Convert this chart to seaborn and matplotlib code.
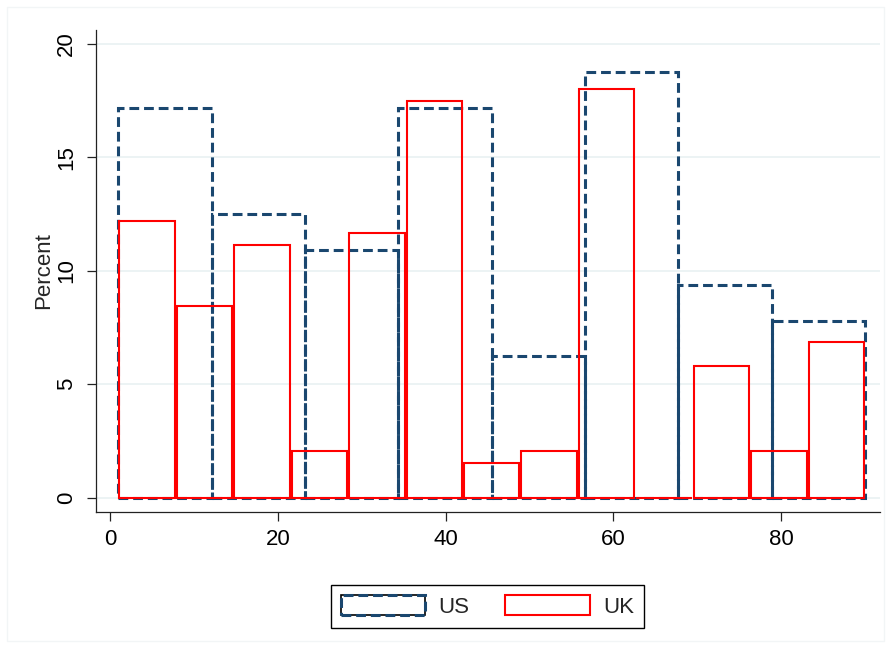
import numpy as np
import pandas as pd
import matplotlib
matplotlib.use("Agg")
import matplotlib.pyplot as plt
import seaborn as sns
from matplotlib.patches import Patch, Rectangle
from matplotlib.legend_handler import HandlerTuple

# Percent per bin
us_pct = [17.19, 12.50, 10.94, 17.19, 6.25, 18.75, 9.38, 7.81]
uk_pct = [12.18, 8.46, 11.12, 2.08, 11.65, 17.51, 1.53, 2.08, 18.04, 0.0, 5.81, 2.08, 6.85]
bin_lo, bin_hi = 1, 90
x_ticks = [0, 20, 40, 60, 80]
y_ticks = [0, 5, 10, 15, 20]

NAVY = "#1a476f"
RED = "#ff0000"
DASH = (0, (3.2, 1.6))

sns.set_theme(style="white")
plt.rcParams['font.family'] = ['Liberation Sans', 'DejaVu Sans']

fig = plt.figure(figsize=(8.91, 6.48), dpi=100)
ax = fig.add_axes([0.1074, 0.2099, 0.8803, 0.7438])


def bin_table(values):
    edges = np.linspace(bin_lo, bin_hi, len(values) + 1)
    centers = (edges[:-1] + edges[1:]) / 2
    return pd.DataFrame({"x": centers, "pct": values}), list(edges)


us_df, us_edges = bin_table(us_pct)
uk_df, uk_edges = bin_table(uk_pct)

# US: dashed navy outlines
sns.histplot(data=us_df, x="x", weights="pct", bins=us_edges, stat="count",
             fill=False, element="bars", color=NAVY, edgecolor=NAVY,
             linewidth=2.2, linestyle=DASH, ax=ax)
# UK: solid red outlines with a small gap
sns.histplot(data=uk_df, x="x", weights="pct", bins=uk_edges, stat="count",
             fill=False, element="bars", color=RED, edgecolor=RED,
             linewidth=1.5, shrink=0.965, ax=ax)

ax.set_xlim(-1.7, 91.77)
ax.set_ylim(-0.63, 20.62)
ax.set_xticks(x_ticks)
ax.set_yticks(y_ticks)
ax.yaxis.grid(True, color="#eaf2f3", linewidth=1.3)
ax.xaxis.grid(False)
ax.set_axisbelow(True)

for side in ["top", "right"]:
    ax.spines[side].set_visible(False)
for side in ["left", "bottom"]:
    ax.spines[side].set_color("#222222")
    ax.spines[side].set_linewidth(0.9)

ax.tick_params(axis="both", direction="out", bottom=True, left=True,
               length=6.5, width=0.9, color="#222222", labelsize=16,
               labelcolor="black")
ax.tick_params(axis="x", pad=6)
ax.tick_params(axis="y", pad=7)
plt.setp(ax.get_yticklabels(), rotation=90, va="center")

ax.set_xlabel("")
ax.set_ylabel("Percent", fontsize=16, labelpad=1)

# Legend
us_handle = (Patch(facecolor="none", edgecolor="black", linewidth=1.2),
             Patch(facecolor="none", edgecolor=NAVY, linewidth=2.2, linestyle=DASH))
uk_handle = Patch(facecolor="none", edgecolor=RED, linewidth=1.5)
leg = fig.legend([us_handle, uk_handle], ["US", "UK"],
                 handler_map={tuple: HandlerTuple(ndivide=1, pad=0)},
                 ncol=2, loc="center", bbox_to_anchor=(0.5471, 0.0640),
                 frameon=True, fancybox=False, edgecolor="black", framealpha=1,
                 fontsize=16, handlelength=3.8, handleheight=1.0,
                 handletextpad=0.6, columnspacing=1.6, borderpad=0.45)
leg.get_frame().set_linewidth(1.0)

# faint outer frame like the graph region
fig.patches.append(Rectangle((7 / 891, 7 / 648), 1 - 14 / 891, 1 - 14 / 648,
                             transform=fig.transFigure, fill=False,
                             edgecolor="#f2f5f6", linewidth=1))

plt.savefig("out.png", dpi=100)
